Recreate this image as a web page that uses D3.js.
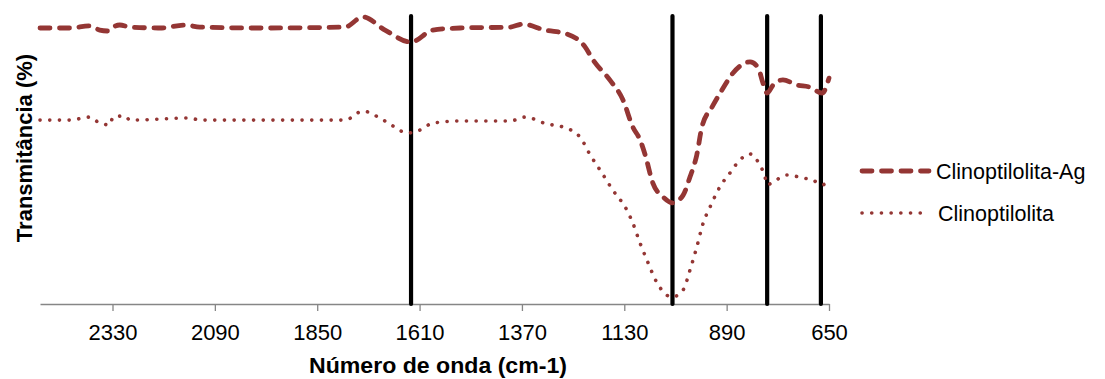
<!DOCTYPE html>
<html>
<head>
<meta charset="utf-8">
<script src="https://cdn.jsdelivr.net/npm/d3@7"></script>
<style>
  body { margin: 0; background: #fff; }
  text { font-family: "Liberation Sans", Arial, sans-serif; }
</style>
</head>
<body>
<div id="chart"></div>
<script>
// número de onda (cm-1)
const ondaAg = [2500, 2430, 2383, 2360, 2341, 2329, 2313, 2289, 2219, 2160, 2125, 1984, 1785, 1743, 1691, 1630,
  1579, 1515, 1398, 1368, 1316, 1264, 1222, 1203, 1164, 1133, 1110, 1093, 1081, 1063, 1039, 1016,
  992, 976, 960, 948, 924, 901, 875, 835, 816, 805, 795, 781, 758, 725, 695, 666, 650];
const transAg = [92, 92, 92.7, 91.3, 91, 92.3, 93, 92.3, 92, 93, 92.3, 92, 92.3, 95.7, 91.3, 87.3,
  91.3, 92, 92.3, 93.3, 91.3, 90, 85.7, 81.3, 74.7, 68, 59, 54.7, 49.7, 40.3, 35.7, 33.7,
  36.3, 42.3, 49.7, 59, 65.7, 71.3, 77, 80.7, 78.7, 73.7, 70.3, 73, 74.7, 73, 72.3, 70.3, 75.3];

const ondaClino = [2500, 2430, 2383, 2360, 2336, 2329, 2301, 2289, 2148, 2125, 1785, 1743, 1691, 1637, 1609,
  1579, 1515, 1398, 1363, 1311, 1274, 1234, 1210, 1187, 1157, 1124, 1110, 1093, 1077, 1053, 1018,
  992, 976, 960, 945, 929, 906, 882, 859, 835, 816, 800, 795, 781, 748, 711, 688, 666, 650];
const transClino = [61.3, 61.3, 62.3, 60.3, 59.7, 62.3, 62.7, 61.3, 62, 61.3, 61.3, 64.3, 61, 57, 58,
  60.3, 61, 61, 62.3, 60, 59, 55.7, 49.7, 44.7, 38, 31.3, 27, 20.3, 14.7, 7, 2.3,
  4.7, 11.3, 19, 27, 32.3, 39, 43.7, 48, 50, 47.3, 42.3, 39.7, 40.7, 43, 42, 41.3, 39.7, 41.3];

const marcas = [1630, 1017, 795, 669];
const ticks = [2330, 2090, 1850, 1610, 1370, 1130, 890, 650];
const nomes = ["Clinoptilolita-Ag", "Clinoptilolita"];

const width = 1105, height = 379;
const cor = "#943634";

const svg = d3.select("#chart").append("svg")
  .attr("width", width).attr("height", height);

const x = d3.scaleLinear().domain([2500, 650]).range([40, 829]);
const y = d3.scaleLinear().domain([0, 96]).range([304, 16]);

// axis
const xAxis = d3.axisBottom(x).tickValues(ticks).tickSize(7).tickSizeOuter(0).tickFormat(d3.format("d"));
const gx = svg.append("g").attr("transform", "translate(0," + y(0) + ")").call(xAxis);
gx.select(".domain").attr("stroke", "#868686").attr("stroke-width", 1.3);
gx.selectAll(".tick line").attr("stroke", "#868686").attr("stroke-width", 1.3);
gx.selectAll(".tick text").attr("font-size", 22).attr("fill", "#000").attr("y", 20);

// vertical marker lines
svg.selectAll(".marca").data(marcas).enter().append("line")
  .attr("x1", d => x(d)).attr("x2", d => x(d))
  .attr("y1", y(96)).attr("y2", y(0))
  .attr("stroke", "#000").attr("stroke-width", 4.2).attr("stroke-linecap", "round");

const line = d3.line().x(d => x(d[0])).y(d => y(d[1])).curve(d3.curveMonotoneX);

const series = [
  { nome: nomes[0], pts: d3.zip(ondaAg, transAg), w: 4.8, dash: "10,9.5" },
  { nome: nomes[1], pts: d3.zip(ondaClino, transClino), w: 3.6, dash: "0.1,9.6" }
];

series.forEach(s => {
  svg.append("path").datum(s.pts)
    .attr("d", line)
    .attr("fill", "none")
    .attr("stroke", cor)
    .attr("stroke-width", s.w)
    .attr("stroke-dasharray", s.dash)
    .attr("stroke-linecap", "round");
});

// legend
const leg = svg.append("g");
series.forEach((s, i) => {
  const ly = 171 + i * 42;
  leg.append("line")
    .attr("x1", 862).attr("x2", i === 0 ? 929 : 924)
    .attr("y1", ly).attr("y2", ly)
    .attr("stroke", cor).attr("stroke-width", s.w)
    .attr("stroke-dasharray", s.dash).attr("stroke-linecap", "round");
  leg.append("text")
    .attr("x", i === 0 ? 936 : 938).attr("y", ly).attr("dy", "0.35em")
    .attr("font-size", 21.5).attr("fill", "#000")
    .text(s.nome);
});

// titles
svg.append("text")
  .attr("x", 438).attr("y", 373)
  .attr("text-anchor", "middle")
  .attr("font-size", 22).attr("font-weight", "bold")
  .attr("textLength", 258).attr("lengthAdjust", "spacingAndGlyphs")
  .text("Número de onda (cm-1)");

svg.append("text")
  .attr("transform", "translate(32,148) rotate(-90)")
  .attr("text-anchor", "middle")
  .attr("font-size", 22).attr("font-weight", "bold")
  .text("Transmitância (%)");
</script>
</body>
</html>
